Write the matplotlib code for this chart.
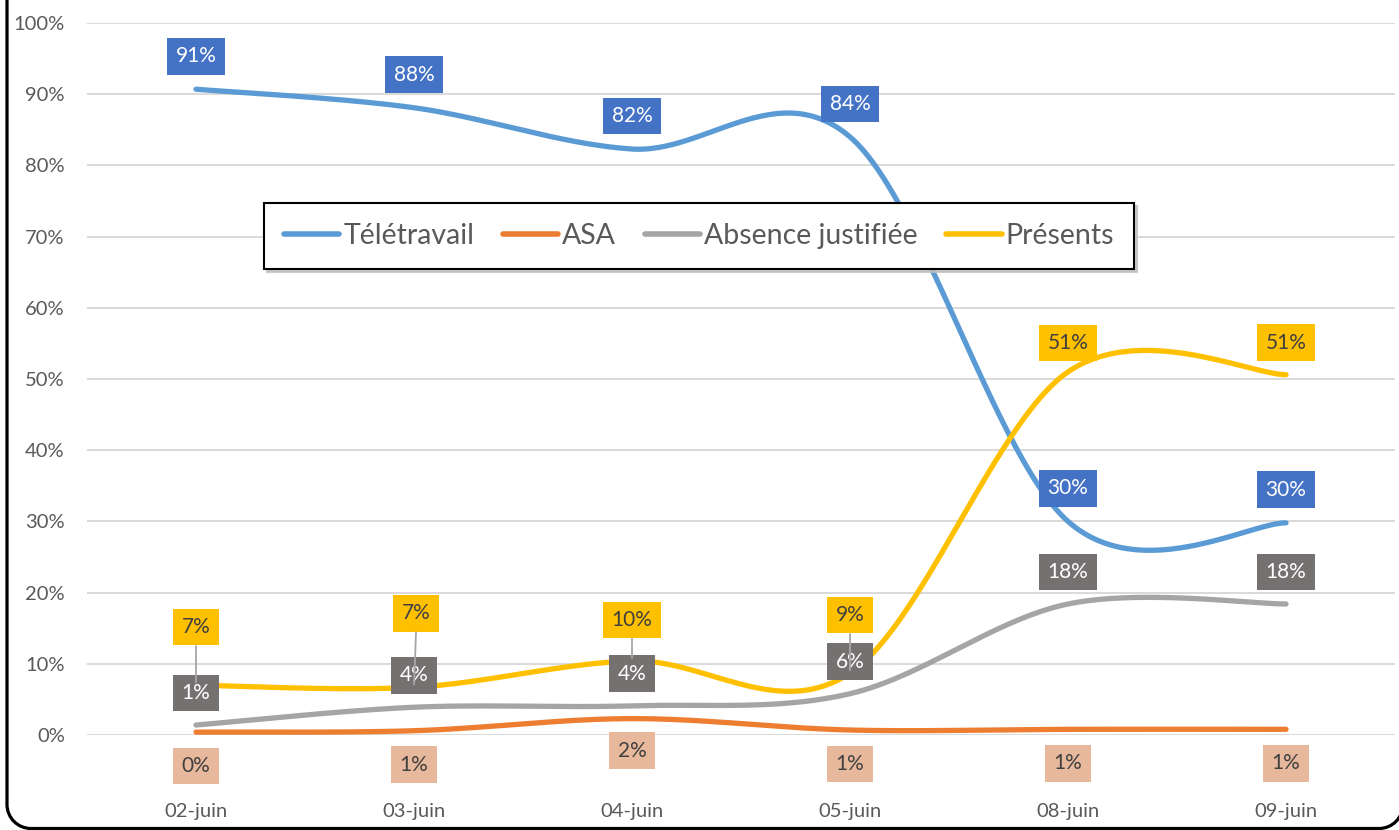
import numpy as np
import matplotlib
matplotlib.use("Agg")
import matplotlib.pyplot as plt
from matplotlib.patches import PathPatch
from matplotlib.path import Path
from matplotlib.ticker import PercentFormatter

plt.rcParams['font.family'] = ['Lato', 'DejaVu Sans']

# ---------------- data ----------------
categories = ["02-juin", "03-juin", "04-juin", "05-juin", "08-juin", "09-juin"]
teletravail = [0.907, 0.881, 0.823, 0.84, 0.30, 0.298]
asa = [0.004, 0.006, 0.023, 0.007, 0.008, 0.008]
absence = [0.014, 0.039, 0.041, 0.058, 0.184, 0.184]
presents = [0.070, 0.067, 0.104, 0.087, 0.51, 0.506]
series_names = ["Télétravail", "ASA", "Absence justifiée", "Présents"]

# ---------------- styles ----------------
line_colors = ["#5B9BD5", "#ED7D31", "#A5A5A5", "#FFC000"]
box_colors = ["#4472C4", "#E7B89B", "#767171", "#FFC000"]
text_colors = ["white", "#404040", "white", "#404040"]
# label offsets in pixels (dx, dy) relative to data point, and leader flags
label_offsets = [
    [(0, 33)] * 6,
    [(0, -34), (0, -34), (0, -32), (0, -34), (0, -34), (0, -34)],
    [(0, 32)] * 6,
    [(0, 58), (2, 74), (0, 41), (0, 58), (0, 29), (0, 32)],
]
leaders = [
    [False] * 6,
    [False] * 6,
    [False] * 6,
    [True, True, True, True, False, False],
]


def smooth(xs, ys, n=60):
    """Excel-like smoothed line: cubic Bezier with Catmull-Rom control points."""
    P = np.column_stack([xs, ys]).astype(float)
    out = []
    m = len(P)
    for i in range(m - 1):
        p0 = P[i - 1] if i > 0 else P[i]
        p1 = P[i]
        p2 = P[i + 1]
        p3 = P[i + 2] if i + 2 < m else P[i + 1]
        c1 = p1 + (p2 - p0) / 6.0
        c2 = p2 - (p3 - p1) / 6.0
        t = np.linspace(0, 1, n)[:, None]
        seg = ((1 - t) ** 3) * p1 + 3 * ((1 - t) ** 2) * t * c1 + 3 * (1 - t) * t ** 2 * c2 + t ** 3 * p2
        if i > 0:
            seg = seg[1:]
        out.append(seg)
    out = np.vstack(out)
    return out[:, 0], out[:, 1]


W, H = 1399, 830
fig = plt.figure(figsize=(W / 100, H / 100), dpi=100)
ax = fig.add_axes([87 / W, (H - 735) / H, (1395 - 87) / W, (735 - 23) / H])

x = np.arange(len(categories))
all_series = [teletravail, asa, absence, presents]

for i, (name, vals) in enumerate(zip(series_names, all_series)):
    sx, sy = smooth(x, vals)
    ax.plot(sx, sy, color=line_colors[i], lw=3.8, solid_capstyle='round',
            label=name, zorder=3 + i, clip_on=False)

ax.set_xlim(-0.5, 5.5)
ax.set_ylim(0, 1.0)
ax.set_yticks(np.arange(0, 1.01, 0.1))
ax.yaxis.set_major_formatter(PercentFormatter(1.0, decimals=0))
ax.set_xticks(x)
ax.set_xticklabels(categories)
ax.grid(axis='y', color='#D9D9D9', lw=1.4)
ax.set_axisbelow(True)
for s in ax.spines.values():
    s.set_visible(False)
ax.tick_params(axis='both', length=0, colors='#595959', labelsize=14.5)
ax.tick_params(axis='y', pad=16)
ax.tick_params(axis='x', pad=49)

# data labels
for i, vals in enumerate(all_series):
    for j, v in enumerate(vals):
        dx, dy = label_offsets[i][j]
        ax.annotate(f"{round(v * 100):.0f}%", xy=(j, v), xytext=(dx, dy),
                    textcoords='offset pixels', ha='center', va='center',
                    fontsize=15, color=text_colors[i], zorder=20,
                    annotation_clip=False,
                    bbox=dict(boxstyle='square,pad=0.4', fc=box_colors[i], ec='none'))
        if leaders[i][j]:
            ax.annotate("", xy=(j, v), xytext=(dx, dy - 19),
                        textcoords='offset pixels', zorder=25,
                        annotation_clip=False,
                        arrowprops=dict(arrowstyle='-', color='#A6A6A6', lw=1.3,
                                        shrinkA=0, shrinkB=2))

leg = fig.legend(loc='center', bbox_to_anchor=(699 / W, 1 - 236 / H), ncol=4,
                 frameon=True, fancybox=False, shadow={'color': '#BFBFBF', 'alpha': 0.8},
                 fontsize=20.5, handlelength=1.95, handletextpad=0.14, columnspacing=1.0,
                 borderpad=0.7, labelcolor='#595959')
leg.get_frame().set_edgecolor('black')
leg.get_frame().set_linewidth(1.5)
for lh in leg.get_lines():
    lh.set_linewidth(4)
leg.set_zorder(30)

# outer rounded frame of the chart area: left side, bottom and the two lower corners
# (figure pixel coordinates, origin bottom-left)
L, R, B, T, r = 7.0, 1403.0, 1.5, 900.0, 24.0
k = 0.5523 * r
verts = [(L, T), (L, B + r),
         (L, B + r - k), (L + r - k, B), (L + r, B),
         (R - r, B),
         (R - r + k, B), (R, B + r - k), (R, B + r)]
codes = [Path.MOVETO, Path.LINETO,
         Path.CURVE4, Path.CURVE4, Path.CURVE4,
         Path.LINETO,
         Path.CURVE4, Path.CURVE4, Path.CURVE4]
frame = PathPatch(Path(verts, codes), transform=None, fc='none', ec='black',
                  lw=2.3, zorder=50, capstyle='butt')
fig.patches.append(frame)

fig.savefig("out.png", dpi=100)
